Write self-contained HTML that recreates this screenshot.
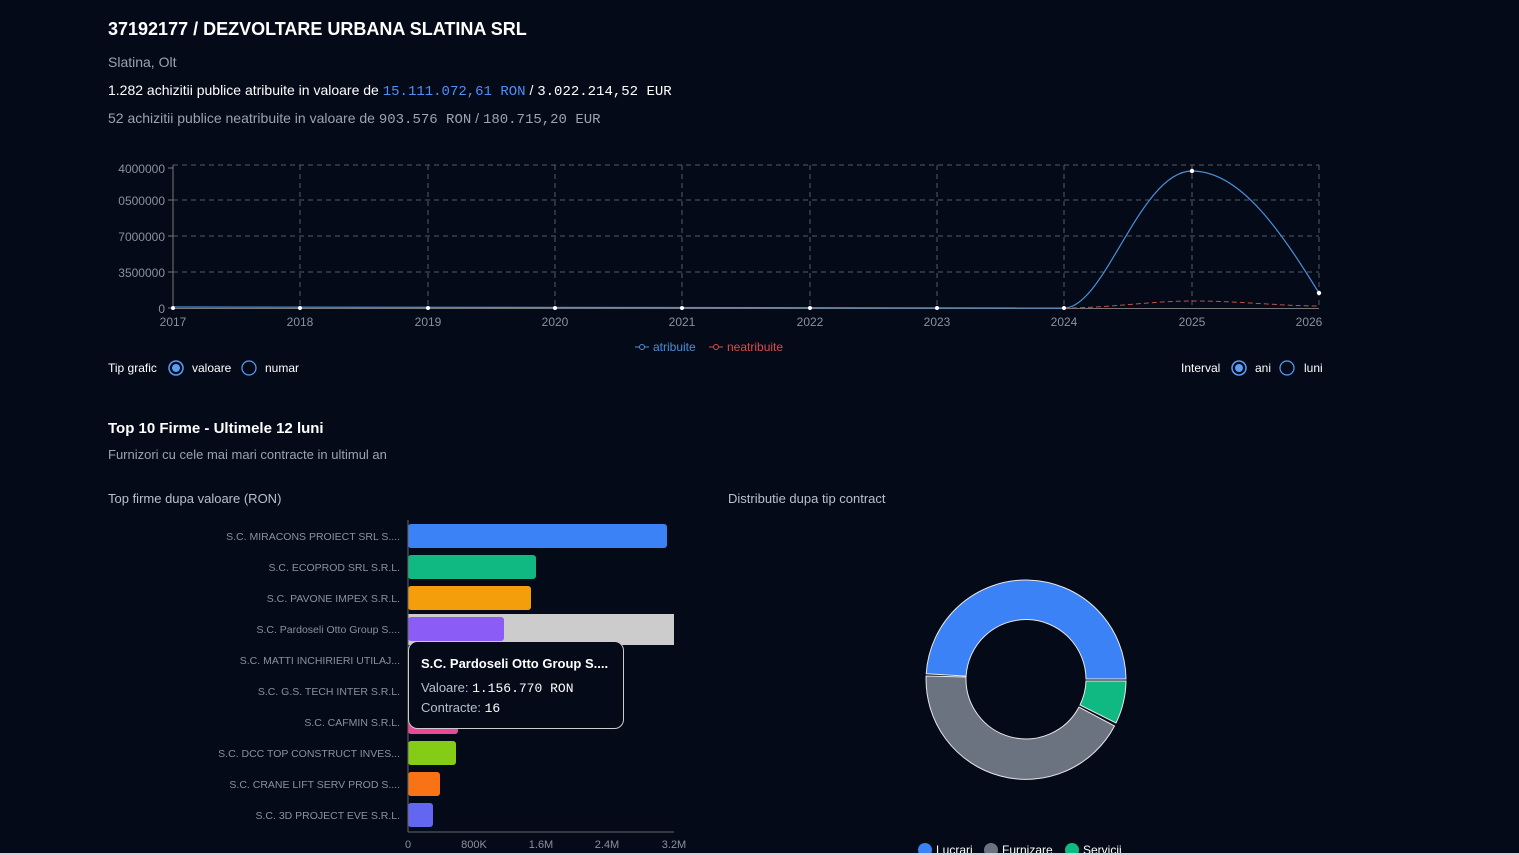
<!DOCTYPE html>
<html><head><meta charset="utf-8"><style>
html,body{margin:0;padding:0;background:#050a18;width:1519px;height:855px;overflow:hidden;font-family:"Liberation Sans",sans-serif}
.t{position:absolute;white-space:nowrap}
.mono{font-family:"Liberation Mono",monospace}
</style></head><body>
<div class="t" style="left:108px;top:19px;font-size:18px;font-weight:bold;color:#fff">37192177 / DEZVOLTARE URBANA SLATINA SRL</div>
<div class="t" style="left:108px;top:54px;font-size:14px;color:#9aa3b2">Slatina, Olt</div>
<div class="t" style="left:108px;top:82px;font-size:14px;color:#fff">1.282 achizitii publice atribuite in valoare de <span class="mono" style="color:#4f8ff7">15.111.072,61 RON</span> / <span class="mono">3.022.214,52 EUR</span></div>
<div class="t" style="left:108px;top:110px;font-size:14px;color:#9aa3b2">52 achizitii publice neatribuite in valoare de <span class="mono">903.576 RON</span> / <span class="mono">180.715,20 EUR</span></div>

<svg width="1519" height="855" style="position:absolute;left:0;top:0" font-family="Liberation Sans, sans-serif">
<g stroke="#555a66" stroke-dasharray="5,4" stroke-width="1" fill="none">
<line x1="173" y1="165" x2="1319" y2="165"/><line x1="173" y1="200" x2="1319" y2="200"/><line x1="173" y1="236" x2="1319" y2="236"/><line x1="173" y1="272" x2="1319" y2="272"/>
<line x1="300" y1="165" x2="300" y2="308"/><line x1="428" y1="165" x2="428" y2="308"/><line x1="555" y1="165" x2="555" y2="308"/><line x1="682" y1="165" x2="682" y2="308"/><line x1="810" y1="165" x2="810" y2="308"/><line x1="937" y1="165" x2="937" y2="308"/><line x1="1064" y1="165" x2="1064" y2="308"/><line x1="1192" y1="165" x2="1192" y2="308"/><line x1="1319" y1="165" x2="1319" y2="308"/>
</g>
<line x1="173" y1="165" x2="173" y2="309" stroke="#777" />
<line x1="173" y1="308.5" x2="1319" y2="308.5" stroke="#777"/>
<g fill="#8a909c" font-size="12" text-anchor="end">
<text x="165" y="173">4000000</text><text x="165" y="205">0500000</text><text x="165" y="241">7000000</text><text x="165" y="277">3500000</text><text x="165" y="313">0</text></g>
<g stroke="#777"><line x1="168" y1="168" x2="173" y2="168"/><line x1="168" y1="200" x2="173" y2="200"/><line x1="168" y1="236" x2="173" y2="236"/><line x1="168" y1="272" x2="173" y2="272"/><line x1="168" y1="308" x2="173" y2="308"/></g>
<g fill="#8a909c" font-size="12" text-anchor="middle">
<text x="173" y="326">2017</text><text x="300" y="326">2018</text><text x="428" y="326">2019</text><text x="555" y="326">2020</text><text x="682" y="326">2021</text><text x="810" y="326">2022</text><text x="937" y="326">2023</text><text x="1064" y="326">2024</text><text x="1192" y="326">2025</text><text x="1309" y="326">2026</text></g>
<path d="M1064,308 C1105,308 1140,171 1192,171 C1240,171 1280,230 1319,293" stroke="#4a90d9" stroke-width="1.2" fill="none"/>
<path d="M1064,308 C1110,308 1150,301 1192,301 C1240,301 1280,306 1319,306" stroke="#c0504d" stroke-width="1" stroke-dasharray="5,3" fill="none"/>
<path d="M173,307 L1064,308" stroke="#4a90d9" stroke-width="1.2"/>
<g fill="#fff"><circle cx="173" cy="308" r="2"/><circle cx="300" cy="308" r="2"/><circle cx="428" cy="308" r="2"/><circle cx="555" cy="308" r="2"/><circle cx="682" cy="308" r="2"/><circle cx="810" cy="308" r="2"/><circle cx="937" cy="308" r="2"/><circle cx="1064" cy="308" r="2"/><circle cx="1192" cy="171" r="2.2"/><circle cx="1319" cy="293" r="2.2"/></g>
<line x1="635" y1="347" x2="649" y2="347" stroke="#4a90d9"/><circle cx="642" cy="347" r="2.5" fill="#050a18" stroke="#4a90d9"/>
<text x="653" y="351" fill="#4a90d9" font-size="12">atribuite</text>
<line x1="709" y1="347" x2="723" y2="347" stroke="#e04848"/><circle cx="716" cy="347" r="2.5" fill="#050a18" stroke="#e04848"/>
<text x="727" y="351" fill="#e04848" font-size="12">neatribuite</text>

<g font-size="12" fill="#fff">
<text x="108" y="372">Tip grafic</text>
<circle cx="176" cy="368" r="7" fill="none" stroke="#5b9cf5" stroke-width="1.5"/><circle cx="176" cy="368" r="4" fill="#5b9cf5"/>
<text x="192" y="372">valoare</text>
<circle cx="249" cy="368" r="7" fill="none" stroke="#5b9cf5" stroke-width="1.2"/>
<text x="265" y="372">numar</text>
<text x="1181" y="372">Interval</text>
<circle cx="1239" cy="368" r="7" fill="none" stroke="#5b9cf5" stroke-width="1.5"/><circle cx="1239" cy="368" r="4" fill="#5b9cf5"/>
<text x="1255" y="372">ani</text>
<circle cx="1287" cy="368" r="7" fill="none" stroke="#5b9cf5" stroke-width="1.2"/>
<text x="1304" y="372">luni</text>
</g>

<text x="108" y="433" fill="#fff" font-size="15" font-weight="bold">Top 10 Firme - Ultimele 12 luni</text>
<text x="108" y="459" fill="#9aa3b2" font-size="13">Furnizori cu cele mai mari contracte in ultimul an</text>
<text x="108" y="503" fill="#b8c0cc" font-size="13">Top firme dupa valoare (RON)</text>
<text x="728" y="503" fill="#b8c0cc" font-size="13">Distributie dupa tip contract</text>

<rect x="408" y="614" width="266" height="31" fill="#cccccc"/>
<g>
<rect x="408" y="524" width="259" height="24" rx="3" fill="#3b82f6"/>
<rect x="408" y="555" width="128" height="24" rx="3" fill="#10b981"/>
<rect x="408" y="586" width="123" height="24" rx="3" fill="#f59e0b"/>
<rect x="408" y="617" width="96" height="24" rx="3" fill="#8b5cf6"/>
<rect x="408" y="710" width="50" height="24" rx="3" fill="#ec4899"/>
<rect x="408" y="741" width="48" height="24" rx="3" fill="#84cc16"/>
<rect x="408" y="772" width="32" height="24" rx="3" fill="#f97316"/>
<rect x="408" y="803" width="25" height="24" rx="3" fill="#6366f1"/>
</g>
<line x1="408" y1="520" x2="408" y2="832" stroke="#666"/>
<line x1="408" y1="832" x2="674" y2="832" stroke="#666"/>
<g fill="#8a909c" font-size="10.5" text-anchor="end" textLength="0">
<text x="400" y="540">S.C. MIRACONS PROIECT SRL S....</text>
<text x="400" y="571">S.C. ECOPROD SRL S.R.L.</text>
<text x="400" y="602">S.C. PAVONE IMPEX S.R.L.</text>
<text x="400" y="633">S.C. Pardoseli Otto Group S....</text>
<text x="400" y="664">S.C. MATTI INCHIRIERI UTILAJ...</text>
<text x="400" y="695">S.C. G.S. TECH INTER S.R.L.</text>
<text x="400" y="726">S.C. CAFMIN S.R.L.</text>
<text x="400" y="757">S.C. DCC TOP CONSTRUCT INVES...</text>
<text x="400" y="788">S.C. CRANE LIFT SERV PROD S....</text>
<text x="400" y="819">S.C. 3D PROJECT EVE S.R.L.</text>
</g>
<g fill="#8a909c" font-size="11" text-anchor="middle">
<text x="408" y="848">0</text><text x="474" y="848">800K</text><text x="541" y="848">1.6M</text><text x="607" y="848">2.4M</text><text x="674" y="848">3.2M</text></g>

<rect x="408.5" y="641.5" width="215" height="87" rx="9" fill="#050a18" stroke="#cccccc"/>
<text x="421" y="668" fill="#fff" font-size="13" font-weight="bold">S.C. Pardoseli Otto Group S....</text>
<text x="421" y="692" fill="#b8c0cc" font-size="13">Valoare: <tspan fill="#fff" font-family="Liberation Mono, monospace">1.156.770 RON</tspan></text>
<text x="421" y="712" fill="#b8c0cc" font-size="13">Contracte: <tspan fill="#fff" font-family="Liberation Mono, monospace">16</tspan></text>

<g stroke="#e8e8e8" stroke-width="1">
<path d="M926.2,673.8 A100,100 0 0 1 1126,679 L1086,679 A60,60 0 0 0 966.1,676.1 Z" fill="#3b82f6"/>
<path d="M1126,681 A100,100 0 0 1 1116,723 L1080,705 A60,60 0 0 0 1086,681 Z" fill="#10b981"/>
<path d="M1114.5,726 A100,100 0 0 1 926.1,676 L966,677 A60,60 0 0 0 1079,707 Z" fill="#6b7280"/>
</g>
<g font-size="12" fill="#fff">
<circle cx="925" cy="850" r="7" fill="#3b82f6"/><text x="936" y="854">Lucrari</text>
<circle cx="991" cy="850" r="7" fill="#6b7280"/><text x="1002" y="854">Furnizare</text>
<circle cx="1072" cy="850" r="7" fill="#10b981"/><text x="1083" y="854">Servicii</text>
</g>
<rect x="0" y="853" width="1519" height="2" fill="#d0d4da"/>
</svg>
</body></html>
